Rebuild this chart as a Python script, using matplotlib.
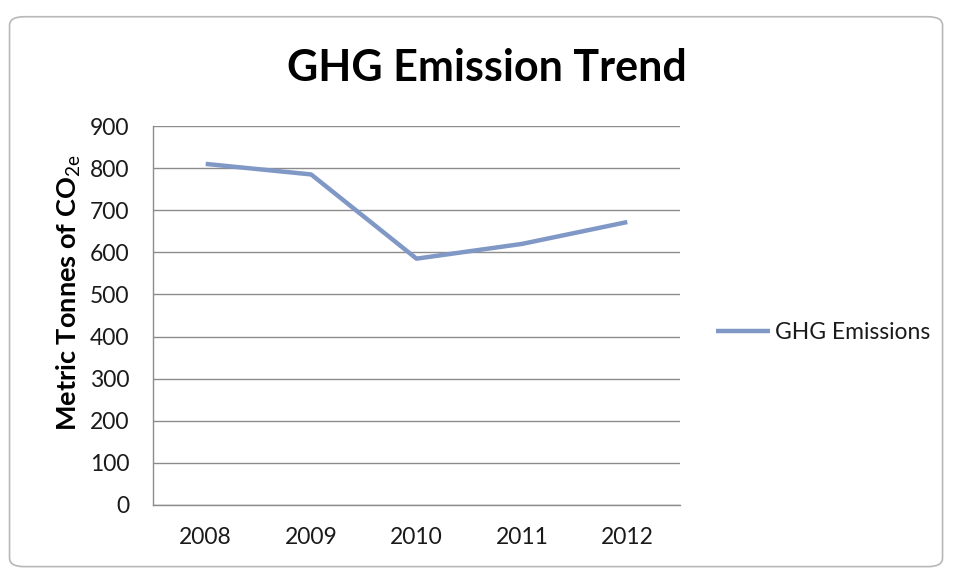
import matplotlib.pyplot as plt
from matplotlib.patches import FancyBboxPatch

years = ["2008", "2009", "2010", "2011", "2012"]
emissions = [810, 785, 585, 620, 672]
yticks = [0, 100, 200, 300, 400, 500, 600, 700, 800, 900]

plt.rcParams['font.family'] = ['Lato', 'DejaVu Sans']
plt.rcParams['mathtext.fontset'] = 'custom'
plt.rcParams['mathtext.rm'] = 'Lato'

fig = plt.figure(figsize=(9.54, 5.77), dpi=100)

# chart area frame (Excel style)
frame = FancyBboxPatch((0.010, 0.018), 0.978, 0.953,
                       boxstyle="round,pad=0,rounding_size=0.015",
                       transform=fig.transFigure, facecolor='white',
                       edgecolor='#b8b8b8', linewidth=1.2, zorder=-5)
fig.patches.append(frame)

ax = fig.add_axes([0.1604, 0.1248, 0.5524, 0.6568])
ax.patch.set_alpha(0)
x = list(range(len(years)))
ax.plot(x, emissions, color='#8098c6', linewidth=3.2, solid_capstyle='butt',
        label='GHG Emissions')

ax.set_xlim(-0.5, len(years) - 0.5)
ax.set_ylim(0, 900)
ax.set_yticks(yticks)
ax.set_xticks(x)
ax.set_xticklabels(years)
ax.yaxis.grid(True, color='#8c8c8c', linewidth=1)
ax.set_axisbelow(True)
for s in ['top', 'right']:
    ax.spines[s].set_visible(False)
for s in ['left', 'bottom']:
    ax.spines[s].set_color('#8c8c8c')
    ax.spines[s].set_linewidth(1)
ax.tick_params(axis='both', length=0, labelsize=16.5, colors='#1a1a1a')
ax.tick_params(axis='x', pad=16)
ax.tick_params(axis='y', pad=17)

ax.set_ylabel(r'Metric Tonnes of CO$_{\mathrm{2e}}$', fontsize=19.5,
              fontweight='bold')
ax.yaxis.set_label_coords(-0.133, 0.56)
fig.text(0.51, 0.882, 'GHG Emission Trend', ha='center', va='center',
         fontsize=31, fontweight='bold')

ax.legend(loc='center left', bbox_to_anchor=(1.0285, 0.455), frameon=False,
          fontsize=16.5, handlelength=2.36, handletextpad=0.22,
          labelcolor='#1a1a1a')

fig.savefig('out.png', dpi=100)
